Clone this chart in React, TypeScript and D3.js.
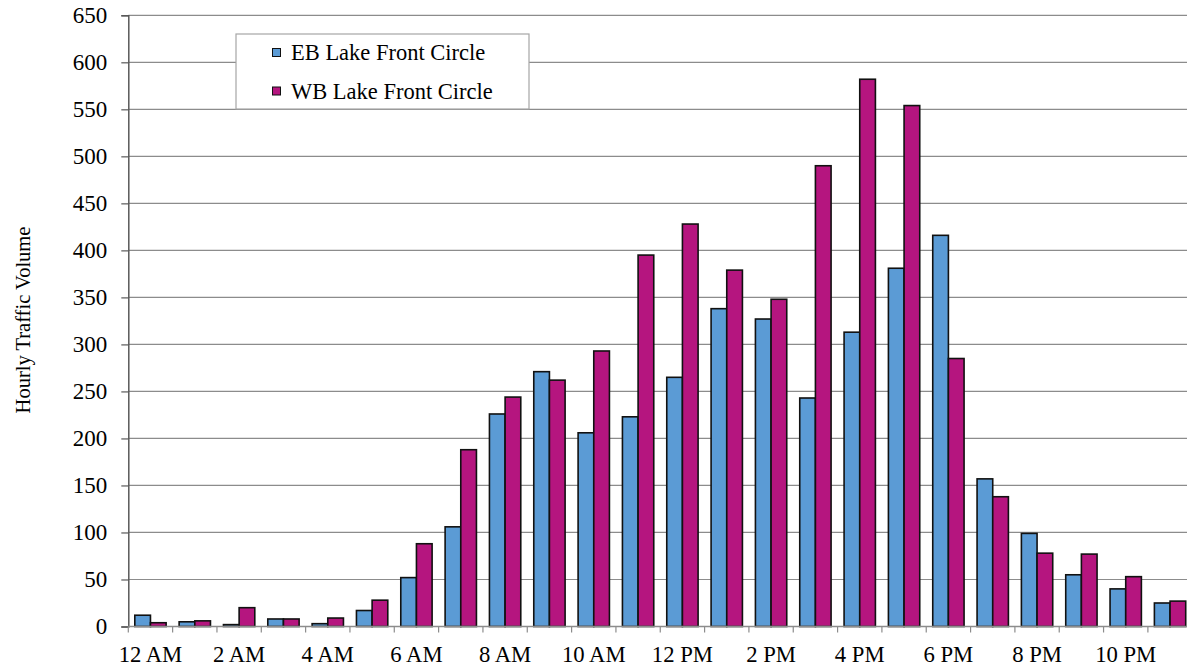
import React, { useEffect, useRef } from 'react';
import * as d3 from 'd3';

const hours = [
    '12 AM', '1 AM', '2 AM', '3 AM', '4 AM', '5 AM', '6 AM', '7 AM', '8 AM', '9 AM', '10 AM', '11 AM',
    '12 PM', '1 PM', '2 PM', '3 PM', '4 PM', '5 PM', '6 PM', '7 PM', '8 PM', '9 PM', '10 PM', '11 PM',
];
const seriesNames = ['EB Lake Front Circle', 'WB Lake Front Circle'];
const ebValues = [12, 5, 2, 8, 3, 17, 52, 106, 226, 271, 206, 223, 265, 338, 327, 243, 313, 381, 416, 157, 99, 55, 40, 25];
const wbValues = [4, 6, 20, 8, 9, 28, 88, 188, 244, 262, 293, 395, 428, 379, 348, 490, 582, 554, 285, 138, 78, 77, 53, 27];
const yTicks = d3.range(0, 651, 50);
const colors = ['#5B9BD5', '#B5157F'];

const App: React.FC = () => {
    const ref = useRef<SVGSVGElement>(null);

    useEffect(() => {
        const svg = d3.select(ref.current);
        svg.selectAll('*').remove();

        const font = 'Liberation Serif, Times New Roman, serif';
        const left = 128.3;
        const bandW = 44.33;

        const x = d3.scaleBand<string>().domain(hours).range([left, left + bandW * hours.length]).padding(0);
        const xs = d3.scaleBand<number>().domain([0, 1]).range([0, x.bandwidth()]).paddingInner(0).paddingOuter(0.415);
        const y = d3.scaleLinear().domain([0, 650]).range([626.5, 15.3]);

        // gridlines
        svg.append('g')
            .selectAll('line')
            .data(yTicks.filter(t => t > 0))
            .enter().append('line')
            .attr('x1', left).attr('x2', 1187)
            .attr('y1', d => y(d)).attr('y2', d => y(d))
            .attr('stroke', '#8c8c8c').attr('stroke-width', 1.2);

        // bars
        const series = [ebValues, wbValues];
        const groups = svg.append('g')
            .selectAll('g')
            .data(hours)
            .enter().append('g')
            .attr('transform', d => `translate(${x(d)},0)`);
        groups.selectAll('rect')
            .data((_, i) => series.map((s, k) => ({ k, v: s[i] })))
            .enter().append('rect')
            .attr('x', d => xs(d.k)!)
            .attr('width', xs.bandwidth())
            .attr('y', d => y(d.v))
            .attr('height', d => y(0) - y(d.v))
            .attr('fill', d => colors[d.k])
            .attr('stroke', '#111')
            .attr('stroke-width', 1.6);

        // y axis
        const yAxis = svg.append('g')
            .attr('transform', `translate(${left},0)`)
            .call(d3.axisLeft(y).tickValues(yTicks).tickSize(7).tickPadding(14));
        yAxis.select('.domain').attr('stroke', '#595959').attr('stroke-width', 1.5);
        yAxis.selectAll('.tick line').attr('stroke', '#595959').attr('stroke-width', 1.2);
        yAxis.selectAll('.tick text')
            .attr('font-family', font).attr('font-size', 23).attr('fill', '#000');

        // x axis
        const xAxis = svg.append('g')
            .attr('transform', `translate(0,${y(0)})`);
        xAxis.append('line')
            .attr('x1', left).attr('x2', 1187)
            .attr('stroke', '#8c8c8c').attr('stroke-width', 1.5);
        xAxis.selectAll('.xt')
            .data(hours)
            .enter().append('line')
            .attr('x1', d => x(d)!).attr('x2', d => x(d)!)
            .attr('y1', 0).attr('y2', 6)
            .attr('stroke', '#8c8c8c').attr('stroke-width', 1.2);
        xAxis.selectAll('text')
            .data(hours.filter((_, i) => i % 2 === 0))
            .enter().append('text')
            .attr('x', d => x(d)! + x.bandwidth() / 2)
            .attr('y', 35)
            .attr('text-anchor', 'middle')
            .attr('font-family', font).attr('font-size', 22.7)
            .text(d => d);

        // y title
        svg.append('text')
            .attr('transform', 'translate(30,320) rotate(-90)')
            .attr('text-anchor', 'middle')
            .attr('font-family', font).attr('font-size', 20.5)
            .text('Hourly Traffic Volume');

        // legend
        const legend = svg.append('g');
        legend.append('rect')
            .attr('x', 236).attr('y', 34).attr('width', 293).attr('height', 75)
            .attr('fill', '#fff').attr('stroke', '#a6a6a6').attr('stroke-width', 1.2);
        const items = legend.selectAll('.item')
            .data(seriesNames)
            .enter().append('g')
            .attr('transform', (_, i) => `translate(0,${52.5 + i * 38.5})`);
        items.append('rect')
            .attr('x', 272.5).attr('y', -4).attr('width', 8).attr('height', 8)
            .attr('fill', (_, i) => colors[i]).attr('stroke', '#111').attr('stroke-width', 1);
        items.append('text')
            .attr('x', 291).attr('y', 7.5)
            .attr('font-family', font).attr('font-size', 22.5)
            .text(d => d);
    }, []);

    return (
        <svg ref={ref} width={1187} height={668}
            style={{ position: 'absolute', left: 0, top: 0, background: '#fff', display: 'block' }} />
    );
};

export default App;
